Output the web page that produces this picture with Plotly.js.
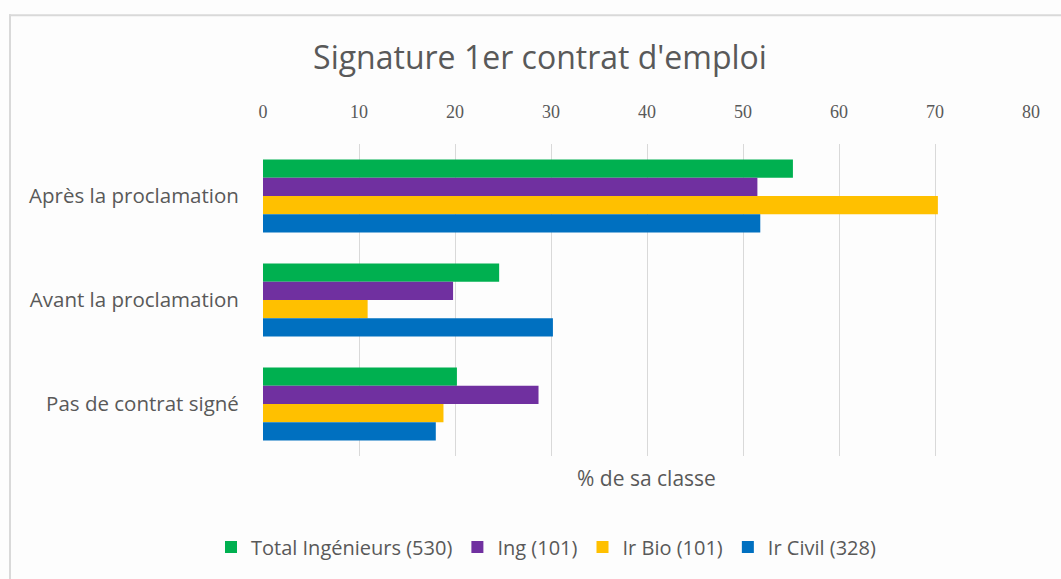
<!DOCTYPE html>
<html>
<head>
<meta charset="utf-8">
<script src="https://cdn.plot.ly/plotly-3.0.1.min.js"></script>
<style>
html,body{margin:0;padding:0;background:#fdfdfd;}
#chart{width:1061px;height:579px;}
</style>
</head>
<body>
<div id="chart"></div>
<script>
// Data
const categories = ["Après la proclamation", "Avant la proclamation", "Pas de contrat signé"];
const seriesNames = ["Total Ingénieurs (530)", "Ing (101)", "Ir Bio (101)", "Ir Civil (328)"];
const totalIngenieurs = [55.2, 24.6, 20.2];
const ing = [51.5, 19.8, 28.7];
const irBio = [70.3, 10.9, 18.8];
const irCivil = [51.8, 30.2, 18.0];
const xTicks = [0, 10, 20, 30, 40, 50, 60, 70, 80];
const chartTitle = "Signature 1er contrat d'emploi";
const xAxisTitle = "% de sa classe";

const colors = ["#00B050", "#7030A0", "#FFC000", "#0070C0"];
const values = [totalIngenieurs, ing, irBio, irCivil];

const traces = values.map((v, i) => ({
  type: "bar",
  orientation: "h",
  name: seriesNames[i],
  y: categories,
  x: v,
  marker: {color: colors[i]},
  hoverinfo: "x+name"
}));

const L = 263, R = 1031, T = 144, B = 459;
const W = 1061, H = 579;
const px2x = p => (p - L) / (R - L);
const py2y = p => (B - p) / (B - T);
const FONT = "'Open Sans', Lato, sans-serif";

const layout = {
  width: W, height: H,
  paper_bgcolor: "#fdfdfd",
  plot_bgcolor: "#fdfdfd",
  margin: {l: L, r: W - R, t: T, b: H - B, pad: 0},
  font: {family: FONT, color: "#595959"},
  title: {
    text: chartTitle,
    font: {family: FONT, size: 32, color: "#595959"},
    xref: "container", yref: "container",
    x: 540 / W, xanchor: "center",
    y: 1 - 58 / H, yanchor: "middle"
  },
  barmode: "group",
  bargap: 0.3,
  bargroupgap: 0,
  showlegend: true,
  legend: {
    orientation: "h",
    x: px2x(546), xanchor: "center",
    y: py2y(551), yanchor: "middle",
    font: {family: FONT, size: 20, color: "#595959"},
    itemwidth: 30,
    bgcolor: "rgba(0,0,0,0)"
  },
  xaxis: {
    side: "top",
    range: [0, 80],
    tickvals: xTicks,
    ticktext: xTicks.map(String),
    showgrid: true,
    gridcolor: "#d9d9d9",
    gridwidth: 1,
    zeroline: false,
    showline: false,
    ticks: "outside",
    ticklen: 18,
    tickcolor: "rgba(0,0,0,0)",
    tickfont: {family: "'Liberation Serif', serif", size: 18, color: "#595959"},
    fixedrange: true
  },
  yaxis: {
    type: "category",
    autorange: "reversed",
    showgrid: false,
    zeroline: false,
    showline: false,
    ticks: "outside",
    ticklen: 19,
    tickcolor: "rgba(0,0,0,0)",
    tickfont: {family: FONT, size: 20.5, color: "#595959"},
    fixedrange: true
  },
  annotations: [{
    text: xAxisTitle,
    xref: "paper", yref: "paper",
    x: px2x(646), y: py2y(481),
    xanchor: "center", yanchor: "middle",
    showarrow: false,
    font: {family: FONT, size: 21, color: "#595959"}
  }],
  shapes: [
    {type: "line", xref: "paper", yref: "paper",
     x0: px2x(10), x1: px2x(10), y0: py2y(13), y1: py2y(600),
     line: {color: "#d9d9d9", width: 2}},
    {type: "line", xref: "paper", yref: "paper",
     x0: px2x(9), x1: px2x(1100), y0: py2y(14), y1: py2y(14),
     line: {color: "#d9d9d9", width: 2}}
  ]
};

Plotly.newPlot("chart", traces, layout, {displayModeBar: false, staticPlot: true});
</script>
</body>
</html>
